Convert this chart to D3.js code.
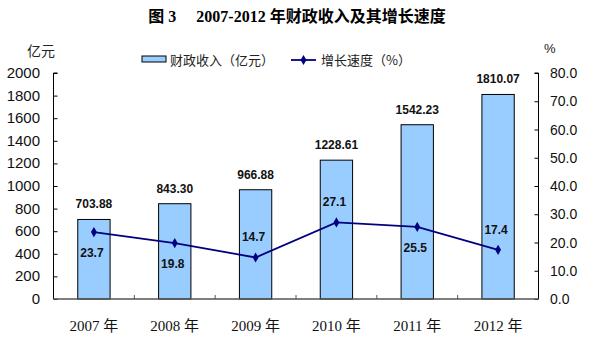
<!DOCTYPE html>
<html><head><meta charset="utf-8">
<script src="https://cdn.jsdelivr.net/npm/d3@7"></script>
<style>body{margin:0;background:#fff}</style>
</head><body>
<svg id="c" width="594" height="344"></svg>
<script>
const years = ["2007 年","2008 年","2009 年","2010 年","2011 年","2012 年"];
const revenue = [703.88, 843.30, 966.88, 1228.61, 1542.23, 1810.07];
const revenueLabels = ["703.88","843.30","966.88","1228.61","1542.23","1810.07"];
const growth = [23.7, 19.8, 14.7, 27.1, 25.5, 17.4];
const growthLabelAbove = [false, false, true, true, false, true];
const leftTicks = [0,200,400,600,800,1000,1200,1400,1600,1800,2000];
const rightTicks = [0,10,20,30,40,50,60,70,80];

const svg = d3.select("#c");
const L = 53.5, R = 538.5, T = 73, B = 299;
const x = d3.scaleBand().domain(years).range([L, R]).paddingInner(0.6).paddingOuter(0.3);
const xb = d3.scaleBand().domain(years).range([L, R]);
const yL = d3.scaleLinear().domain([0, 2000]).range([B, T]);
const yR = d3.scaleLinear().domain([0, 80]).range([B, T]);

// title
svg.append("text").attr("x", 297).attr("y", 22).attr("text-anchor", "middle")
  .style("font-family", "'Liberation Serif','Noto Sans CJK SC'").style("font-weight", "bold").style("font-size", "16px")
  .attr("xml:space","preserve")
  .text("图 3     2007-2012 年财政收入及其增长速度");

// units
svg.append("text").attr("x", 27).attr("y", 56).style("font-family", "'Noto Sans CJK SC'").style("font-size", "14px").style("fill","#222").text("亿元");
svg.append("text").attr("x", 544).attr("y", 53).style("font-family", "'Liberation Sans',Arial").style("font-size", "13px").style("fill","#222").text("%");

// bars
svg.selectAll("rect.bar").data(revenue).join("rect").attr("class", "bar")
  .attr("x", (d, i) => x(years[i])).attr("width", x.bandwidth())
  .attr("y", d => yL(d)).attr("height", d => B - yL(d))
  .attr("fill", "#99CCFF").attr("stroke", "#000").attr("stroke-width", 1);

// axes
const axL = svg.append("g").attr("transform", `translate(${L},0)`)
  .call(d3.axisRight(yL).tickValues(leftTicks).tickSize(4).tickFormat(""));
axL.selectAll("line").attr("stroke", "#000");
axL.select(".domain").attr("d", `M4,${T}H0V${B}`).attr("stroke", "#000");
svg.append("g").selectAll("text").data(leftTicks).join("text")
  .attr("x", 40).attr("y", d => yL(d) + 5).attr("text-anchor", "end")
  .style("font-family", "'Liberation Sans',Arial").style("font-size", "15px").style("fill","#111").text(d => d);

const axR = svg.append("g").attr("transform", `translate(${R},0)`)
  .call(d3.axisLeft(yR).tickValues(rightTicks).tickSize(4).tickFormat(""));
axR.selectAll("line").attr("stroke", "#000");
axR.select(".domain").attr("d", `M-4,${T}H0V${B}`).attr("stroke", "#000");
svg.append("g").selectAll("text").data(rightTicks).join("text")
  .attr("x", 550).attr("y", d => yR(d) + 5).attr("text-anchor", "start")
  .style("font-family", "'Liberation Sans',Arial").style("font-size", "14px").style("fill","#111").text(d => d3.format(".1f")(d));

// bottom axis
svg.append("line").attr("x1", L).attr("x2", R).attr("y1", B).attr("y2", B).attr("stroke", "#555").attr("stroke-width", 1.5);
svg.append("g").selectAll("line").data(years.slice(1)).join("line")
  .attr("x1", d => xb(d)).attr("x2", d => xb(d)).attr("y1", B).attr("y2", B - 4).attr("stroke", "#555");
svg.append("g").selectAll("text").data(years).join("text")
  .attr("x", d => xb(d) + xb.bandwidth() / 2).attr("y", 331).attr("text-anchor", "middle")
  .style("font-family", "'Liberation Serif','Noto Sans CJK SC'").style("font-size", "15px").style("fill","#111").text(d => d);

// bar labels
svg.append("g").selectAll("text").data(revenue).join("text")
  .attr("x", (d, i) => x(years[i]) + x.bandwidth() / 2).attr("y", d => yL(d) - 11)
  .attr("text-anchor", "middle").style("font-family", "'Liberation Sans',Arial").style("font-weight", "bold")
  .style("font-size", "12px").style("fill","#111").text((d, i) => revenueLabels[i]);

// line
const cx = i => x(years[i]) + x.bandwidth() / 2;
svg.append("path").datum(growth)
  .attr("d", d3.line().x((d, i) => cx(i)).y(d => yR(d)))
  .attr("fill", "none").attr("stroke", "#000080").attr("stroke-width", 1.8);
const diamond = d3.symbol().type(d3.symbolDiamond).size(30);
svg.append("g").selectAll("path").data(growth).join("path")
  .attr("transform", (d, i) => `translate(${cx(i)},${yR(d)})`).attr("d", diamond).attr("fill", "#000080");
svg.append("g").selectAll("text").data(growth).join("text")
  .attr("x", (d, i) => cx(i) - 2).attr("y", (d, i) => growthLabelAbove[i] ? yR(d) - 16 : yR(d) + 25)
  .attr("text-anchor", "middle").style("font-family", "'Liberation Sans',Arial").style("font-weight", "bold")
  .style("font-size", "12px").style("fill","#111").text(d => d3.format(".1f")(d));

// legend
const lg = svg.append("g");
lg.append("rect").attr("x", 142).attr("y", 56).attr("width", 24).attr("height", 6).attr("fill", "#99CCFF").attr("stroke", "#000");
lg.append("text").attr("x", 170).attr("y", 65).style("font-family", "'Noto Sans CJK SC'").style("font-size", "13px").style("fill","#222").text("财政收入（亿元）");
lg.append("line").attr("x1", 291).attr("x2", 316).attr("y1", 60).attr("y2", 60).attr("stroke", "#000080").attr("stroke-width", 1.8);
lg.append("path").attr("transform", "translate(303.5,60)").attr("d", diamond).attr("fill", "#000080");
lg.append("text").attr("x", 321).attr("y", 65).style("font-family", "'Noto Sans CJK SC'").style("font-size", "13px").style("fill","#222").text("增长速度（%）");
</script>
</body></html>
